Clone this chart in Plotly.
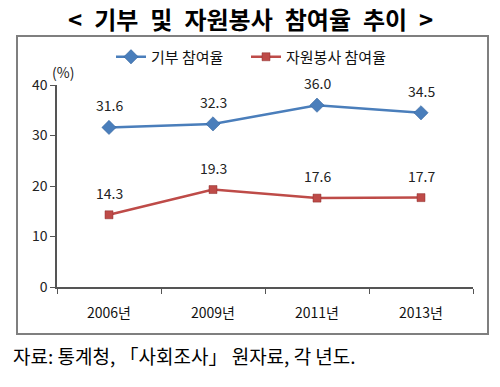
import plotly.graph_objects as go

years = ["2006년", "2009년", "2011년", "2013년"]
donation = [31.6, 32.3, 36.0, 34.5]
volunteer = [14.3, 19.3, 17.6, 17.7]
series_names = ["기부 참여율", "자원봉사 참여율"]
title_text = "< 기부 및 자원봉사 참여율 추이 >"
source_text = "자료: 통계청, 「사회조사」 원자료, 각 년도."

BLUE = "#4A7EBB"
RED = "#BE4B48"
FONT = "Noto Sans CJK KR"

fig = go.Figure()
fig.add_trace(go.Scatter(x=years, y=donation, name=series_names[0], mode="lines+markers",
                         line=dict(color=BLUE, width=2.5), legend="legend",
                         marker=dict(symbol="diamond", size=11, color=BLUE, line=dict(color="#2C5D96", width=0.5))))
fig.add_trace(go.Scatter(x=years, y=volunteer, name=series_names[1], mode="lines+markers",
                         line=dict(color=RED, width=2.5), legend="legend2",
                         marker=dict(symbol="square", size=8, color=RED, line=dict(color="#8C2F2C", width=0.5))))

for vals in (donation, volunteer):
    for x, v in zip(years, vals):
        fig.add_annotation(x=x, y=v, text=f"{v:.1f}", showarrow=False, yshift=22,
                           font=dict(family=FONT, size=14, color="#222"))

W, H = 500, 387
L, T = 57, 85
R = W - 473
B = H - 287
pw, ph = W - L - R, H - T - B

def px(x):
    return (x - L) / pw

def py(y):
    return (H - B - y) / ph

# outer frame
fig.add_annotation(xref="paper", yref="paper", x=px(252.5), y=py(185), text=" ",
                   showarrow=False, width=469, height=296, borderpad=0,
                   bordercolor="#7F7F7F", borderwidth=2, xanchor="center", yanchor="middle")

title_html = title_text.replace(" ", "\u2002")
fig.add_annotation(xref="paper", yref="paper", x=px(250), y=py(0), text=f"<b>{title_html}</b>",
                   showarrow=False, font=dict(family=FONT, size=24, color="#000"),
                   xanchor="center", yanchor="top", borderpad=0)
fig.add_annotation(xref="paper", yref="paper", x=px(11), y=py(355), text=source_text,
                   showarrow=False, font=dict(family=FONT, size=19, color="#000"),
                   xanchor="left", yanchor="middle")
fig.add_annotation(xref="paper", yref="paper", x=px(50), y=py(72), text="(%)",
                   showarrow=False, font=dict(family=FONT, size=14, color="#222"),
                   xanchor="left", yanchor="middle")

legend_common = dict(orientation="h", yanchor="middle", xanchor="left",
                     font=dict(family=FONT, size=15, color="#111"), itemwidth=30,
                     bgcolor="rgba(0,0,0,0)")

fig.update_layout(
    width=W, height=H,
    margin=dict(l=L, r=R, t=T, b=B, autoexpand=False),
    paper_bgcolor="white", plot_bgcolor="white",
    showlegend=True,
    legend=dict(x=px(111), y=py(57), **legend_common),
    legend2=dict(x=px(246), y=py(57), **legend_common),
    xaxis=dict(type="category", range=[-0.5, 3.5], tickson="boundaries",
               showline=True, linecolor="#555", linewidth=2,
               ticks="outside", ticklen=5, tickcolor="#555", showgrid=False,
               ticklabelstandoff=12,
               tickfont=dict(family=FONT, size=14, color="#111"), zeroline=False),
    yaxis=dict(range=[0, 40], dtick=10, showline=True, linecolor="#555", linewidth=1.5,
               ticks="outside", ticklen=5, tickcolor="#555", showgrid=False, zeroline=False,
               tickfont=dict(family=FONT, size=14, color="#222")),
)

fig.write_html("out.html", config={"displayModeBar": False},
               post_script="document.body.style.margin='0';")
